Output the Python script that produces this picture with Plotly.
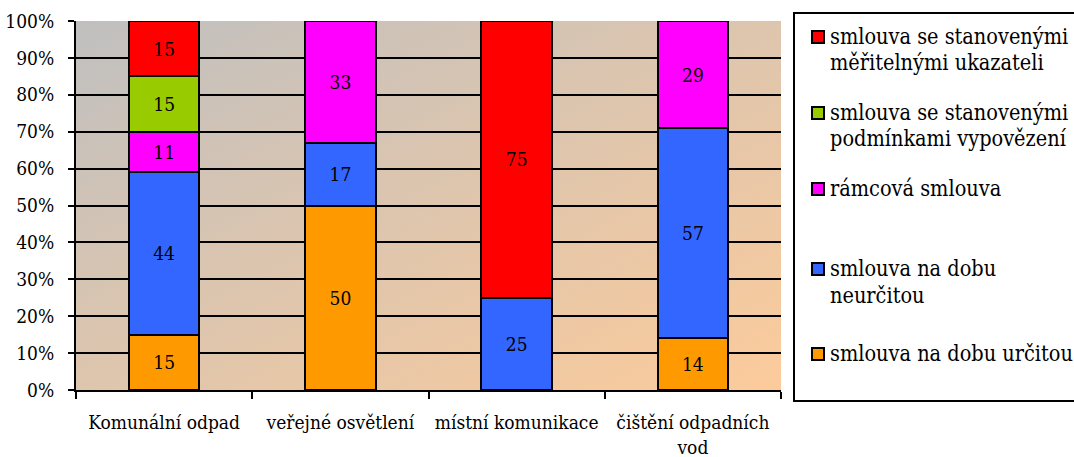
import base64
import plotly.graph_objects as go

# Categories and percentage shares per contract type
categories = ["Komunální odpad", "veřejné osvětlení", "místní komunikace", "čištění odpadních<br>vod"]
urcita = [15, 50, None, 14]          # smlouva na dobu určitou
neurcita = [44, 17, 25, 57]          # smlouva na dobu neurčitou
ramcova = [11, 33, None, 29]         # rámcová smlouva
vypovezeni = [15, None, None, None]  # smlouva se stanovenými podmínkami vypovězení
ukazatele = [15, None, 75, None]     # smlouva se stanovenými měřitelnými ukazateli

series = [
    ("smlouva na dobu určitou", urcita, "#ff9900"),
    ("smlouva na dobu neurčitou", neurcita, "#3366ff"),
    ("rámcová smlouva", ramcova, "#ff00ff"),
    ("smlouva se stanovenými podmínkami vypovězení", vypovezeni, "#99cc00"),
    ("smlouva se stanovenými měřitelnými ukazateli", ukazatele, "#ff0000"),
]

FONT = "DejaVu Serif Condensed"
AX = 19    # axis and bar label size
LG = 21.5  # legend text size
W, H = 1074, 457
L, R, T, B = 76, 781, 21, 390


def px(x):
    return (x - L) / (R - L)


def py(y):
    return (B - y) / (B - T)


fig = go.Figure()
for name, vals, color in series:
    fig.add_trace(go.Bar(
        x=categories, y=vals, name=name,
        text=[("" if v is None else str(v)) for v in vals],
        texttemplate="%{text}", textposition="inside", insidetextanchor="middle",
        textangle=0, constraintext="none",
        textfont=dict(family=FONT, size=AX, color="black"),
        marker=dict(color=color, line=dict(color="black", width=2)),
        showlegend=False, hoverinfo="skip",
    ))

# diagonal grey-to-peach fill of the plot area
svg = (
    "<svg xmlns='http://www.w3.org/2000/svg' width='705' height='369' "
    "viewBox='0 0 705 369' preserveAspectRatio='none'>"
    "<defs><linearGradient id='g' x1='0' y1='0' x2='1' y2='1'>"
    "<stop offset='0' stop-color='#c0c0c0'/><stop offset='1' stop-color='#fccb9b'/>"
    "</linearGradient></defs><rect width='705' height='369' fill='url(#g)'/></svg>"
)
bg_uri = "data:image/svg+xml;base64," + base64.b64encode(svg.encode()).decode()

fig.update_layout(
    width=W, height=H, autosize=False,
    margin=dict(l=L, r=W - R, t=T, b=H - B, pad=0),
    barmode="stack", bargap=0.6,
    paper_bgcolor="white", plot_bgcolor="rgba(0,0,0,0)",
    font=dict(family=FONT, size=AX, color="black"),
    images=[dict(source=bg_uri, xref="paper", yref="paper", x=0, y=1,
                 sizex=1, sizey=1, sizing="stretch", xanchor="left",
                 yanchor="top", layer="below")],
)
fig.update_xaxes(
    automargin=False, tickangle=0,
    showline=True, linecolor="black", linewidth=2,
    ticks="outside", tickson="boundaries", ticklen=7, tickwidth=2, tickcolor="black",
    showgrid=False, tickfont=dict(family=FONT, size=AX, color="black"),
    ticklabelstandoff=14,
)
fig.update_yaxes(
    automargin=False,
    range=[0, 100], dtick=10, ticksuffix="%",
    showline=True, linecolor="black", linewidth=2,
    ticks="outside", ticklen=6, tickwidth=2, tickcolor="black",
    showgrid=True, gridcolor="black", gridwidth=2, zeroline=False,
    tickfont=dict(family=FONT, size=AX, color="black"),
    ticklabelstandoff=10,
)

# legend frame
shapes = [dict(type="rect", xref="paper", yref="paper",
               x0=px(794), x1=px(1076), y0=py(401), y1=py(13),
               line=dict(color="black", width=2), fillcolor="rgba(0,0,0,0)")]

# legend entries: colour, square top, text lines with baselines
legend_items = [
    ("#ff0000", 31, [("smlouva se stanovenými", 43), ("měřitelnými ukazateli", 69)]),
    ("#99cc00", 107, [("smlouva se stanovenými", 119), ("podmínkami vypovězení", 145)]),
    ("#ff00ff", 183, [("rámcová smlouva", 195)]),
    ("#3366ff", 263, [("smlouva na dobu", 275), ("neurčitou", 302)]),
    ("#ff9900", 348, [("smlouva na dobu určitou", 360)]),
]
annotations = []
for color, sq_top, lines in legend_items:
    shapes.append(dict(type="rect", xref="paper", yref="paper",
                       x0=px(812), x1=px(824), y0=py(sq_top + 12), y1=py(sq_top),
                       line=dict(color="black", width=2), fillcolor=color))
    for text, base in lines:
        annotations.append(dict(
            text=text, xref="paper", yref="paper", x=px(829), y=py(base - 7),
            xanchor="left", yanchor="middle", showarrow=False, borderpad=0,
            font=dict(family=FONT, size=LG, color="black"),
        ))

fig.update_layout(shapes=shapes, annotations=annotations)
fig.write_html("out.html")
